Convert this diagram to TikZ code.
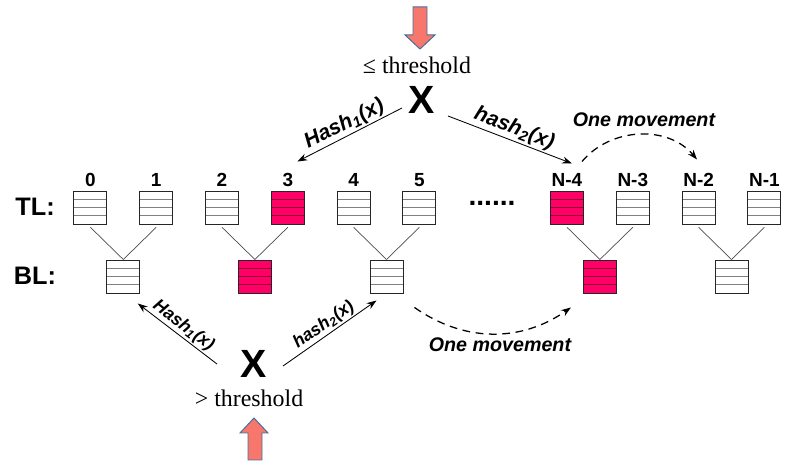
\documentclass[tikz,border=0pt]{standalone}
\usepackage{fontspec}
\setmainfont{Liberation Serif}
\setsansfont{Liberation Sans}
\usetikzlibrary{
		calc,
		positioning,
		arrows.meta
	}
\definecolor{hot}{RGB}{255,0,102}
\definecolor{hotline}{RGB}{140,0,50}
\definecolor{salmon}{RGB}{248,119,109}
\definecolor{arrowrim}{RGB}{65,113,156}
\tikzset{
		>={Stealth[length=7pt,width=5pt]},
		box/.style 2 args={draw=black!85, line width=0.7pt, fill=#1,
			minimum width=0.825cm, minimum height=0.825cm, inner sep=0pt,
			path picture={\foreach \r in {1,2,3}{\draw[#2, line width=0.9pt]
				($(path picture bounding box.south west)!\r/4!(path picture bounding box.north west)$) -- ++(1,0);}}},
		bucket/.style={box={white}{gray}},
		hotbucket/.style={box={hot}{hotline}},
		idx/.style={font=\sffamily\bfseries\fontsize{13.5}{15}\selectfont, inner sep=1pt},
		side/.style={font=\sffamily\bfseries\fontsize{18}{20}\selectfont},
		item/.style={font=\sffamily\bfseries\fontsize{28}{30}\selectfont, inner sep=0pt},
		thr/.style={font=\fontsize{17}{19}\selectfont},
		link/.style={draw=black!70, line width=0.5pt},
		hash/.style={->, line width=0.6pt},
		hashlab/.style={font=\sffamily\bfseries\itshape\fontsize{15}{17}\selectfont, inner sep=1pt},
		smallhashlab/.style={hashlab, font=\sffamily\bfseries\itshape\fontsize{12.5}{14}\selectfont},
		move/.style={->, dash pattern=on 5.5pt off 4pt, line width=0.9pt},
		movelab/.style={font=\sffamily\bfseries\itshape\fontsize{14}{16}\selectfont},
		fat/.style={fill=salmon, draw=arrowrim, line width=0.7pt}
	}
\begin{document}
\begin{tikzpicture}
              \useasboundingbox (0,0) rectangle (20.05,11.725);

              % the two levels
              \node[side] (tl) at (0.875,6.55) {TL:};
              \node[side] (bl) at (0.875,4.825) {BL:};

              % top level buckets with their numbers
              \foreach \i/\x/\lab/\st in {0/2.26/0/bucket, 1/3.905/1/bucket, 2/5.55/2/bucket,
                  3/7.195/3/hotbucket, 4/8.84/4/bucket, 5/10.485/5/bucket, 6/14.175/N-4/hotbucket,
                  7/15.82/N-3/bucket, 8/17.465/N-2/bucket, 9/19.11/N-1/bucket}{
                \node[\st] (t\i) at (\x,6.5375) {};
                \node[idx, above=1.5pt of t\i] (l\i) {\lab};
              }
              \node[font=\sffamily\bfseries\fontsize{20}{22}\selectfont, anchor=base] (dots) at (12.3,6.575) {......};

              % bottom level buckets, each one shared by two top buckets
              \foreach \j/\a/\b/\st in {1/0/1/bucket, 2/2/3/hotbucket, 3/4/5/bucket,
                  4/6/7/hotbucket, 5/8/9/bucket}{
                \node[\st] (b\j) at ($(t\a)!0.5!(t\b) + (0,-1.725)$) {};
                \draw[link] ([yshift=-2pt]t\a.south) -- (b\j.north);
                \draw[link] ([yshift=-2pt]t\b.south) -- (b\j.north);
              }

              % item going to the top level
              \draw[fat] (10.325,11.55) -- (10.675,11.55) -- (10.675,10.85) -- (10.875,10.85)
                -- (10.5,10.5) -- (10.125,10.85) -- (10.325,10.85) -- cycle;
              \node[thr] (thtop) at (10.425,10.1) {≤ threshold};
              \node[item] (hx) at (10.55,9.225) {X};
              \draw[hash] ([shift={(-0.5,-0.2)}]hx.center) -- ([shift={(0.24,0.725)}]t3.north)
                node[midway, sloped, above, hashlab] {Hash\textsubscript{1}(x)};
              \draw[hash] ([shift={(0.65,-0.4)}]hx.center) -- ([shift={(0.125,0.675)}]t6.north)
                node[midway, sloped, above, hashlab] {hash\textsubscript{2}(x)};
              \draw[move] ([shift={(0.375,0.725)}]t6.north) to[out=50,in=130] ([shift={(-0.04,0.775)}]t8.north);
              \node[movelab] (mvtop) at (16.1,8.725) {One movement};

              % item going to the bottom level
              \draw[fat] (6.2,0.225) -- (6.55,0.225) -- (6.55,0.9) -- (6.7,0.9)
                -- (6.35,1.275) -- (6.0,0.9) -- (6.2,0.9) -- cycle;
              \node[thr] (thbot) at (6.225,1.775) {> threshold};
              \node[item] (bx) at (6.35,2.625) {X};
              \draw[hash] ([shift={(-0.925,0)}]bx.center) -- ([shift={(0.3625,-0.25)}]b1.south)
                node[midway, sloped, above, smallhashlab] {Hash\textsubscript{1}(x)};
              \draw[hash] ([shift={(0.725,-0.05)}]bx.center) -- ([shift={(-0.25,-0.175)}]b3.south)
                node[midway, sloped, above, smallhashlab] {hash\textsubscript{2}(x)};
              \draw[move] ([shift={(0.275,-0.35)}]b3.south east) to[out=-35,in=-145] ([shift={(-0.3,-0.35)}]b4.south west);
              \node[movelab] (mvbot) at (12.5,3.1) {One movement};

          \end{tikzpicture}
\end{document}
